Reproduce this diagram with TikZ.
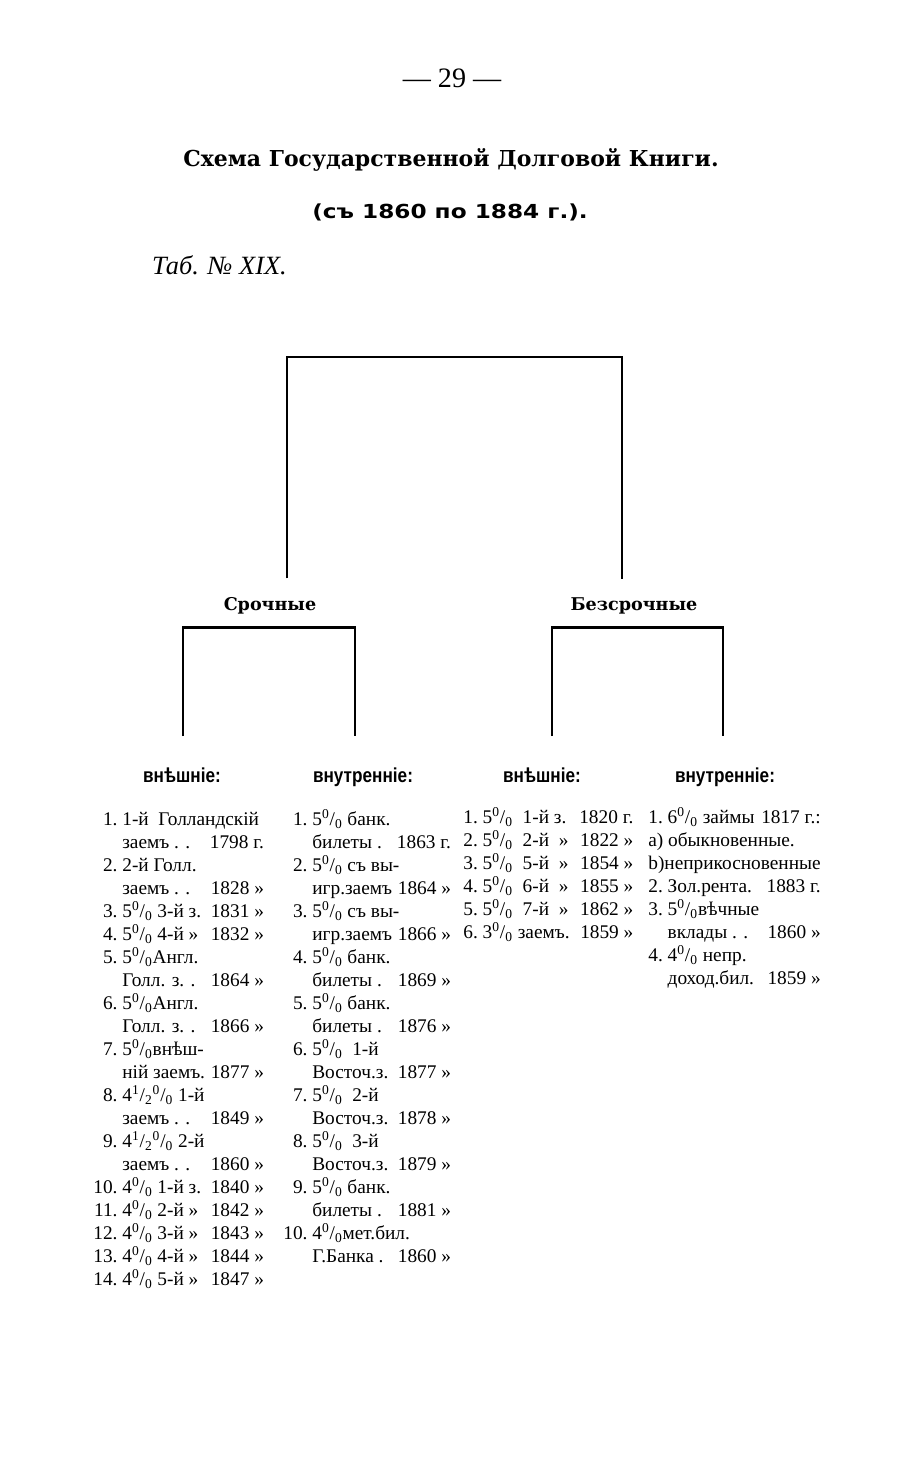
\documentclass[tikz,border=0pt]{standalone}
\usepackage{fontspec}
\setmainfont{Liberation Serif}
\newfontfamily\clar{DejaVu Serif}
\newfontfamily\wide[FakeStretch=1.2]{DejaVu Sans}
\newfontfamily\narrow[FakeStretch=0.85]{Liberation Sans}
\usetikzlibrary{positioning,calc}
\newcommand{\pc}{\textsuperscript{0}/\textsubscript{0}}
\newcommand{\hpc}{\textsuperscript{1}/\textsubscript{2}\pc}

\begin{document}
\begin{tikzpicture}[x=0.02cm,y=-0.02cm,
    bracket/.style={line width=1.5pt},
    grp/.style={font=\clar\bfseries\fontsize{10}{12}\selectfont},
    kind/.style={anchor=base,font=\narrow\bfseries\fontsize{11.5}{13}\selectfont},
    loans/.style={anchor=north west,inner sep=0pt,font=\fontsize{11}{13.1}\selectfont}
  ]
    \useasboundingbox (0,0) rectangle (912,1478);
    \node[font=\fontsize{16}{18}\selectfont] (page) at (452,78) {— 29 —};
    \node[font=\clar\bfseries\fontsize{12.5}{15}\selectfont] (title) at (451,160) {Схема Государственной Долговой Книги.};
    \node[font=\wide\bfseries\fontsize{11}{13}\selectfont] (years) at (450,212) {(съ 1860 по 1884 г.).};
    \node[anchor=west,font=\itshape\fontsize{15}{17}\selectfont] (tab) at (146,265) {Таб. № XIX.};

    \coordinate (apex) at (455,357);
    \node[grp] (sroch) at (270,606) {Срочные};
    \node[grp] (bezs) at (634,606) {Безсрочные};
    \node[kind] (ext1) at (182,782) {внѣшніе:};
    \node[kind] (int1) at (363,782) {внутренніе:};
    \node[kind] (ext2) at (542,782) {внѣшніе:};
    \node[kind] (int2) at (725,782) {внутренніе:};

    \draw[bracket] ($(sroch.north)+(17,-13)$) |- (apex) -| ($(bezs.north)+(-12,-13)$);
    \draw[bracket] ($(ext1.north)+(1,-25)$) |- ($(sroch.south)+(0,7)$) -| ($(int1.north)+(-8,-25)$);
    \draw[bracket] ($(ext2.north)+(10,-25)$) |- ($(bezs.south)+(0,7)$) -| ($(int2.north)+(-2,-25)$);

    \node[loans] (list1) at (93,809) {\begin{tabular}{@{}r@{\ }l@{\ }r@{}}
      1.&\multicolumn{2}{@{}l@{}}{1-й\ \ Голландскій}\\
      &заемъ . .&1798 г.\\
      2.&\multicolumn{2}{@{}l@{}}{2-й Голл.}\\
      &заемъ . .&1828 »\\
      3.&5\pc\ 3-й з.&1831 »\\
      4.&5\pc\ 4-й »&1832 »\\
      5.&\multicolumn{2}{@{}l@{}}{5\pc Англ.}\\
      &Голл. з. .&1864 »\\
      6.&\multicolumn{2}{@{}l@{}}{5\pc Англ.}\\
      &Голл. з. .&1866 »\\
      7.&\multicolumn{2}{@{}l@{}}{5\pc внѣш-}\\
      &ній заемъ.&1877 »\\
      8.&\multicolumn{2}{@{}l@{}}{4\hpc\ 1-й}\\
      &заемъ . .&1849 »\\
      9.&\multicolumn{2}{@{}l@{}}{4\hpc\ 2-й}\\
      &заемъ . .&1860 »\\
      10.&4\pc\ 1-й з.&1840 »\\
      11.&4\pc\ 2-й »&1842 »\\
      12.&4\pc\ 3-й »&1843 »\\
      13.&4\pc\ 4-й »&1844 »\\
      14.&4\pc\ 5-й »&1847 »
    \end{tabular}};
    \node[loans] (list2) at (283,809) {\begin{tabular}{@{}r@{\ }l@{\ }r@{}}
      1.&\multicolumn{2}{@{}l@{}}{5\pc\ банк.}\\
      &билеты .&1863 г.\\
      2.&\multicolumn{2}{@{}l@{}}{5\pc\ съ вы-}\\
      &игр.заемъ&1864 »\\
      3.&\multicolumn{2}{@{}l@{}}{5\pc\ съ вы-}\\
      &игр.заемъ&1866 »\\
      4.&\multicolumn{2}{@{}l@{}}{5\pc\ банк.}\\
      &билеты .&1869 »\\
      5.&\multicolumn{2}{@{}l@{}}{5\pc\ банк.}\\
      &билеты .&1876 »\\
      6.&\multicolumn{2}{@{}l@{}}{5\pc\ \ 1-й}\\
      &Восточ.з.&1877 »\\
      7.&\multicolumn{2}{@{}l@{}}{5\pc\ \ 2-й}\\
      &Восточ.з.&1878 »\\
      8.&\multicolumn{2}{@{}l@{}}{5\pc\ \ 3-й}\\
      &Восточ.з.&1879 »\\
      9.&\multicolumn{2}{@{}l@{}}{5\pc\ банк.}\\
      &билеты .&1881 »\\
      10.&\multicolumn{2}{@{}l@{}}{4\pc мет.бил.}\\
      &Г.Банка .&1860 »
    \end{tabular}};
    \node[loans] (list3) at (463,807) {\begin{tabular}{@{}r@{\ }l@{\ \ }l@{\ \ }r@{}}
      1.&5\pc&1-й з.&1820 г.\\
      2.&5\pc&2-й\ \ »&1822 »\\
      3.&5\pc&5-й\ \ »&1854 »\\
      4.&5\pc&6-й\ \ »&1855 »\\
      5.&5\pc&7-й\ \ »&1862 »\\
      6.&\multicolumn{2}{@{}l@{\ \ }}{3\pc\ заемъ.}&1859 »
    \end{tabular}};
    \node[loans] (list4) at (648,807) {\begin{tabular}{@{}r@{\ }l@{\ }r@{}}
      1.&6\pc\ займы&1817 г.:\\
      \multicolumn{3}{@{}l@{}}{а) обыкновенные.}\\
      \multicolumn{3}{@{}l@{}}{b)неприкосновенные}\\
      2.&Зол.рента.&1883 г.\\
      3.&\multicolumn{2}{@{}l@{}}{5\pc вѣчные}\\
      &вклады . .&1860 »\\
      4.&\multicolumn{2}{@{}l@{}}{4\pc\ непр.}\\
      &доход.бил.&1859 »
    \end{tabular}};
  \end{tikzpicture}
\end{document}
